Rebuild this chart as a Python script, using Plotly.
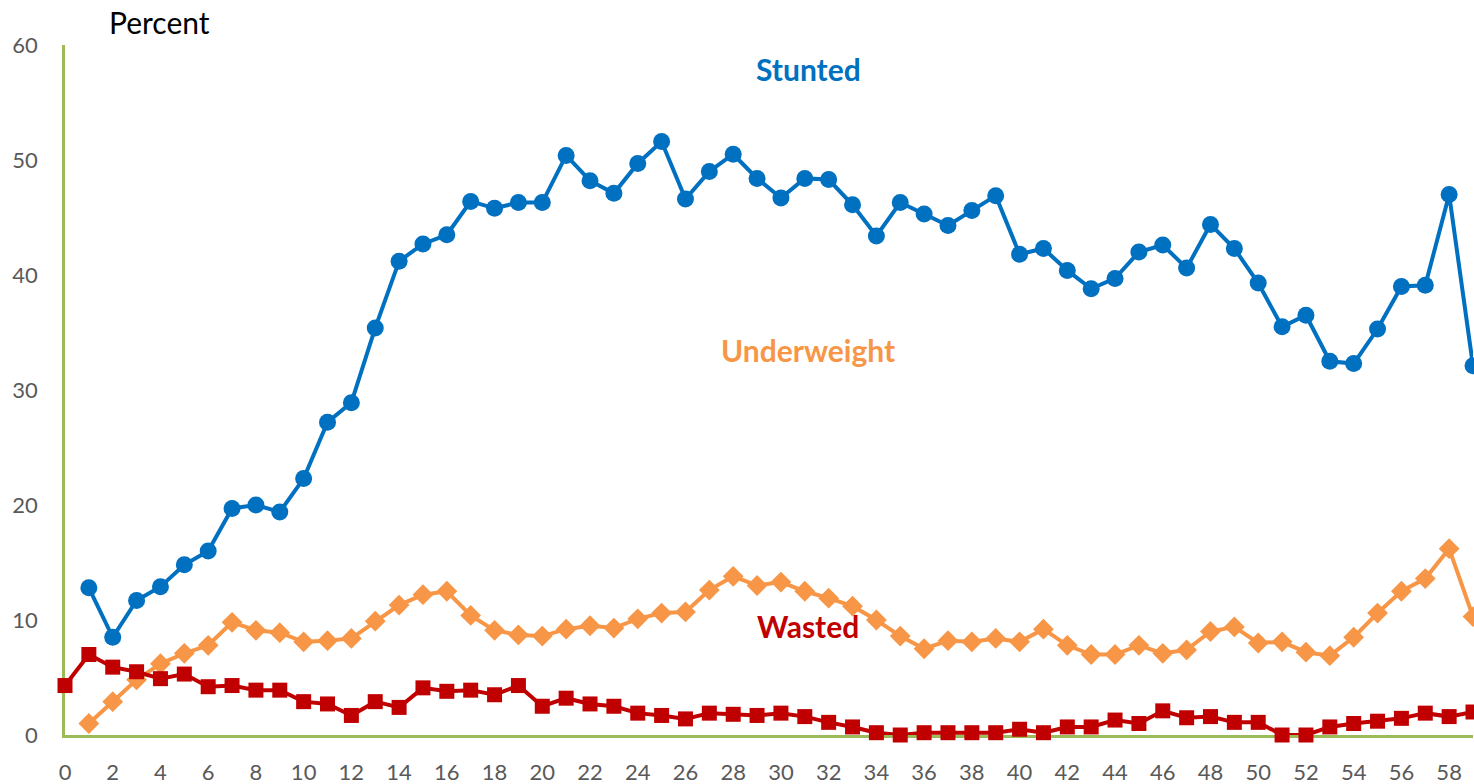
import plotly.graph_objects as go

age_months = list(range(0, 60))

stunted = [None, 12.8, 8.5, 11.7, 12.9, 14.8, 16.0, 19.7, 20.0, 19.4,
           22.3, 27.2, 28.9, 35.4, 41.2, 42.7, 43.5, 46.4, 45.8, 46.3,
           46.3, 50.4, 48.2, 47.1, 49.7, 51.6, 46.6, 49.0, 50.5, 48.4,
           46.7, 48.4, 48.3, 46.1, 43.4, 46.3, 45.3, 44.3, 45.6, 46.9,
           41.8, 42.3, 40.4, 38.8, 39.7, 42.0, 42.6, 40.6, 44.4, 42.3,
           39.3, 35.5, 36.5, 32.5, 32.3, 35.3, 39.0, 39.1, 47.0, 32.1]

underweight = [None, 1.0, 2.9, 4.8, 6.2, 7.1, 7.8, 9.8, 9.1, 8.9,
               8.1, 8.2, 8.4, 9.9, 11.3, 12.2, 12.5, 10.4, 9.1, 8.7,
               8.6, 9.2, 9.5, 9.3, 10.1, 10.6, 10.7, 12.6, 13.8, 13.0,
               13.3, 12.5, 11.9, 11.2, 10.0, 8.6, 7.5, 8.2, 8.1, 8.4,
               8.1, 9.2, 7.8, 7.0, 7.0, 7.8, 7.1, 7.4, 9.0, 9.4,
               8.0, 8.1, 7.2, 6.9, 8.5, 10.6, 12.5, 13.6, 16.2, 10.3]

wasted = [4.3, 7.0, 5.9, 5.5, 4.9, 5.3, 4.2, 4.3, 3.9, 3.9,
          2.9, 2.7, 1.7, 2.9, 2.4, 4.1, 3.8, 3.9, 3.5, 4.3,
          2.5, 3.2, 2.7, 2.5, 1.9, 1.7, 1.4, 1.9, 1.8, 1.7,
          1.9, 1.6, 1.1, 0.7, 0.2, 0.0, 0.2, 0.2, 0.2, 0.2,
          0.5, 0.2, 0.7, 0.7, 1.3, 1.0, 2.1, 1.5, 1.6, 1.1,
          1.1, 0.0, 0.0, 0.7, 1.0, 1.2, 1.45, 1.9, 1.6, 2.0]

x_ticks = list(range(0, 60, 2))
y_ticks = [0, 10, 20, 30, 40, 50, 60]

BLUE = "#0070C0"
ORANGE = "#F79646"
RED = "#C00000"
GREEN = "#9BBB59"
FONT = "Lato"

fig = go.Figure()
fig.add_trace(go.Scatter(x=age_months, y=underweight, mode="lines+markers",
                         line=dict(color=ORANGE, width=4),
                         marker=dict(symbol="diamond", size=16, color=ORANGE),
                         cliponaxis=False, name="Underweight"))
fig.add_trace(go.Scatter(x=age_months, y=wasted, mode="lines+markers",
                         line=dict(color=RED, width=4),
                         marker=dict(symbol="square", size=15, color=RED),
                         cliponaxis=False, name="Wasted"))
fig.add_trace(go.Scatter(x=age_months, y=stunted, mode="lines+markers",
                         line=dict(color=BLUE, width=4),
                         marker=dict(symbol="circle", size=17, color=BLUE),
                         cliponaxis=False, name="Stunted"))

fig.update_layout(
    width=1474, height=784,
    margin=dict(l=65, r=1, t=45, b=49),
    paper_bgcolor="white", plot_bgcolor="white",
    showlegend=False,
    font=dict(family=FONT, color="#595959", size=22),
    xaxis=dict(range=[0, 59], tickmode="array", tickvals=x_ticks,
               showgrid=False, zeroline=False, showline=True,
               linecolor=GREEN, linewidth=2.5, ticks="",
               ticklabelstandoff=16, layer="below traces", automargin=False,
               tickfont=dict(family=FONT, size=22, color="#595959")),
    yaxis=dict(range=[0, 60], tickmode="array", tickvals=y_ticks,
               showgrid=False, zeroline=False, showline=True,
               linecolor=GREEN, linewidth=2.5, ticks="",
               ticklabelstandoff=20, layer="below traces", automargin=False,
               tickfont=dict(family=FONT, size=22, color="#595959")),
    annotations=[
        dict(text="Percent", xref="paper", yref="paper", x=0.0668, y=1.033,
             showarrow=False, xanchor="center", yanchor="middle",
             font=dict(family=FONT, size=30, color="#000000")),
        dict(text="<b>Stunted</b>", xref="paper", yref="paper", x=0.5277, y=0.965,
             showarrow=False, xanchor="center", yanchor="middle",
             font=dict(family=FONT, size=30, color=BLUE)),
        dict(text="<b>Underweight</b>", xref="paper", yref="paper", x=0.5277, y=0.558,
             showarrow=False, xanchor="center", yanchor="middle",
             font=dict(family=FONT, size=30, color=ORANGE)),
        dict(text="<b>Wasted</b>", xref="paper", yref="paper", x=0.5277, y=0.158,
             showarrow=False, xanchor="center", yanchor="middle",
             font=dict(family=FONT, size=30, color=RED)),
    ],
)

fig.write_html("out.html",
               config={"displayModeBar": False},
               post_script="document.body.style.margin='0px';document.body.style.overflow='hidden';")
